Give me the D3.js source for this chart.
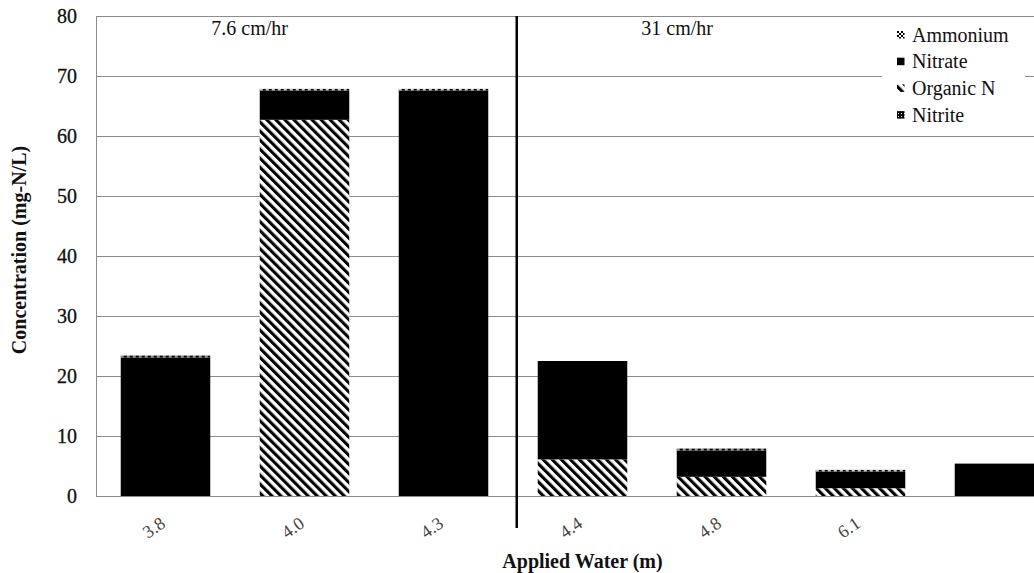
<!DOCTYPE html>
<html><head><meta charset="utf-8">
<script src="https://cdn.jsdelivr.net/npm/d3@7"></script>
<style>
body{margin:0;background:#fff;overflow:hidden}
text{font-family:"Liberation Serif","Times New Roman",serif}
</style></head>
<body><svg id="c" width="1034" height="573"></svg>
<script>
const categories = ["3.8","4.0","4.3","4.4","4.8","6.1",""];
const organicN = [0, 62.7, 0, 6.1, 3.2, 1.3, 0];
const nitrate  = [23.1, 4.9, 67.6, 16.4, 4.4, 2.8, 5.4];
const ammonium = [0.3, 0.25, 0.25, 0, 0.3, 0.25, 0];
const nitrite  = [0, 0, 0, 0, 0, 0, 0];
const yTicks = [0,10,20,30,40,50,60,70,80];
const seriesNames = ["Organic N","Nitrate","Ammonium","Nitrite"];
const legendOrder = ["Ammonium","Nitrate","Organic N","Nitrite"];
const rateLabels = ["7.6 cm/hr","31 cm/hr"];

const svg = d3.select("#c");
const m = {l:96, t:16, b:496, r:1069};
const x = d3.scaleBand().domain(d3.range(categories.length)).range([m.l, m.r]).paddingInner(0.356).paddingOuter(0.178);
const y = d3.scaleLinear().domain([0,80]).range([m.b, m.t]);

const defs = svg.append("defs");
const hatch = defs.append("pattern").attr("id","hatch").attr("patternUnits","userSpaceOnUse")
  .attr("width",6.4).attr("height",10).attr("patternTransform","rotate(-45)");
hatch.append("rect").attr("width",6.4).attr("height",10).attr("fill","#fff");
hatch.append("rect").attr("width",3.1).attr("height",10).attr("fill","#000");
const dots = defs.append("pattern").attr("id","dots").attr("patternUnits","objectBoundingBox")
  .attr("width",6/x.bandwidth()).attr("height",1);
dots.append("rect").attr("width",6).attr("height",10).attr("fill","#000");
dots.append("rect").attr("x",0).attr("y",0).attr("width",3).attr("height",1).attr("fill","#fff");
const dots2 = defs.append("pattern").attr("id","dots2").attr("patternUnits","userSpaceOnUse").attr("width",4).attr("height",4);
dots2.append("rect").attr("width",4).attr("height",4).attr("fill","#fff");
dots2.append("rect").attr("x",0).attr("y",0).attr("width",2).attr("height",2).attr("fill","#000");
dots2.append("rect").attr("x",2).attr("y",2).attr("width",2).attr("height",2).attr("fill","#000");
const grid = defs.append("pattern").attr("id","gridp").attr("patternUnits","userSpaceOnUse").attr("width",3).attr("height",3);
grid.append("rect").attr("width",3).attr("height",3).attr("fill","#000");
grid.append("rect").attr("x",1).attr("y",1).attr("width",1).attr("height",1).attr("fill","#fff");

const fills = {"Organic N":"url(#hatch)","Nitrate":"#000","Ammonium":"url(#dots)","Nitrite":"url(#gridp)"};
const legFills = {"Organic N":"url(#hatch)","Nitrate":"#000","Ammonium":"url(#dots2)","Nitrite":"url(#gridp)"};

// gridlines
svg.append("g").selectAll("line").data(yTicks).join("line")
  .attr("x1",m.l).attr("x2",1034).attr("y1",d=>y(d)+0.5).attr("y2",d=>y(d)+0.5)
  .attr("stroke","#8c8c8c").attr("stroke-width",1);
svg.append("line").attr("x1",m.l+0.5).attr("x2",m.l+0.5).attr("y1",m.t).attr("y2",m.b+1).attr("stroke","#8c8c8c");

// y ticks
svg.append("g").selectAll("text").data(yTicks).join("text")
  .attr("x",77).attr("y",d=>y(d)).attr("dy","0.33em").attr("text-anchor","end")
  .attr("font-size",20).attr("fill","#111").attr("stroke","#111").attr("stroke-width",0.3).text(d=>d);

// stacked bars
const rows = categories.map((c,i)=>({i, "Organic N":organicN[i], "Nitrate":nitrate[i], "Ammonium":ammonium[i], "Nitrite":nitrite[i]}));
const stack = d3.stack().keys(seriesNames)(rows);
svg.append("g").selectAll("g").data(stack).join("g").attr("fill",s=>fills[s.key])
  .selectAll("rect").data(s=>s).join("rect")
  .attr("x",d=>x(d.data.i)).attr("width",x.bandwidth())
  .attr("y",d=>y(d[1])).attr("height",d=>Math.max(0,y(d[0])-y(d[1])));

// x labels
svg.append("g").selectAll("text").data(categories).join("text")
  .attr("transform",(d,i)=>`translate(${x(i)+x.bandwidth()/2+1},${526}) rotate(-35)`)
  .attr("text-anchor","end").attr("font-size",18).attr("fill","#444").text(d=>d);

// divider
const divX = x(3) - 21;
svg.append("line").attr("x1",divX).attr("x2",divX).attr("y1",m.t).attr("y2",528).attr("stroke","#000").attr("stroke-width",2.5);

// rate labels
svg.append("text").attr("x",x(0)+x.bandwidth()+1).attr("y",35).attr("font-size",20).attr("fill","#111").text(rateLabels[0]);
svg.append("text").attr("x",x(3)+x.bandwidth()+14).attr("y",35).attr("font-size",20).attr("fill","#111").text(rateLabels[1]);

// legend
const lg = svg.append("g").attr("transform","translate(882,24)");
lg.append("rect").attr("width",143).attr("height",104).attr("fill","#fff");
legendOrder.forEach((k,i)=>{
  const g = lg.append("g").attr("transform",`translate(15,${11+i*26.7})`);
  g.append("rect").attr("x",0).attr("y",-4).attr("width",7.5).attr("height",7.5).attr("fill",legFills[k]);
  g.append("text").attr("x",15).attr("y",0).attr("dy","0.33em").attr("font-size",20).attr("fill","#111").text(k);
});

// axis titles
svg.append("text").attr("transform",`translate(26,${(m.t+m.b)/2-6}) rotate(-90)`).attr("text-anchor","middle")
  .attr("font-size",20).attr("font-weight","bold").attr("fill","#111").text("Concentration (mg-N/L)");
svg.append("text").attr("x",(m.l+m.r)/2).attr("y",568).attr("text-anchor","middle")
  .attr("font-size",20).attr("font-weight","bold").attr("fill","#111").text("Applied Water (m)");
</script></body></html>
